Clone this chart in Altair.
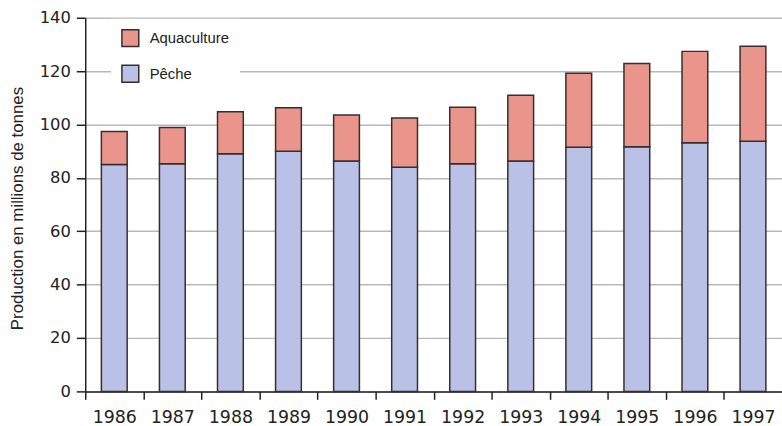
import altair as alt
import pandas as pd

# Production mondiale (millions de tonnes)
years = ["1986", "1987", "1988", "1989", "1990", "1991",
         "1992", "1993", "1994", "1995", "1996", "1997"]
peche = [85.0, 85.3, 89.0, 90.0, 86.3, 84.0, 85.3, 86.3, 91.5, 91.7, 93.2, 93.7]
aquaculture = [12.4, 13.6, 15.8, 16.3, 17.3, 18.4, 21.2, 24.7, 27.7, 31.2, 34.2, 35.6]
y_ticks = [0, 20, 40, 60, 80, 100, 120, 140]

series = ["Aquaculture", "Pêche"]
colors = ["#e9958b", "#b9c1e6"]

rows = []
for yr, p, a in zip(years, peche, aquaculture):
    rows.append({"annee": yr, "source": "Pêche", "valeur": p, "rang": 0})
    rows.append({"annee": yr, "source": "Aquaculture", "valeur": a, "rang": 1})
df = pd.DataFrame(rows)

width = 703
step = width / len(years)

chart = (
    alt.Chart(df)
    .mark_bar(stroke="#3a2c2c", strokeWidth=1.5)
    .encode(
        x=alt.X(
            "annee:N",
            sort=years,
            title=None,
            scale=alt.Scale(paddingInner=0.556, paddingOuter=0.278),
            axis=alt.Axis(
                tickOffset=-step / 2,
                labelOffset=step / 2,
                labelAngle=0,
                tickSize=8,
                tickColor="#222222",
                tickWidth=1.5,
                domainColor="#222222",
                domainWidth=1.5,
                labelFont="DejaVu Sans",
                labelFontSize=17.5,
                labelColor="#222222",
                labelPadding=9,
                grid=False,
            ),
        ),
        y=alt.Y(
            "valeur:Q",
            stack="zero",
            title="Production en millions de tonnes",
            scale=alt.Scale(domain=[0, 140], nice=False),
            axis=alt.Axis(
                values=y_ticks,
                grid=True,
                gridColor="#b8b8b8",
                gridWidth=1.5,
                tickSize=9,
                tickColor="#222222",
                tickWidth=1.5,
                domainColor="#222222",
                domainWidth=1.5,
                labelFont="DejaVu Sans",
                labelFontSize=16.5,
                labelColor="#222222",
                labelPadding=6,
                titleFont="Liberation Sans",
                titleFontSize=17,
                titleFontWeight="normal",
                titleColor="#222222",
                titleAngle=270,
                titleAlign="center",
                titleBaseline="middle",
                titleX=-68,
                titleY=192,
            ),
        ),
        fill=alt.Fill(
            "source:N",
            scale=alt.Scale(domain=series, range=colors),
            legend=alt.Legend(
                title=None,
                orient="none",
                legendX=26,
                legendY=1,
                fillColor="white",
                padding=10,
                symbolType="square",
                symbolSize=289,
                symbolStrokeColor="#3a2c2c",
                symbolStrokeWidth=1.5,
                symbolOpacity=1,
                rowPadding=13,
                labelOffset=10,
                labelFont="Liberation Sans",
                labelFontSize=15,
                labelColor="#222222",
            ),
        ),
        order=alt.Order("rang:Q", sort="ascending"),
    )
    .properties(
        width=width,
        height=377,
        autosize=alt.AutoSizeParams(type="none"),
        padding={"left": 86, "top": 16, "right": 0, "bottom": 33},
        background="white",
    )
    .configure_view(stroke=None)
)

chart.save("out.html", embed_options={"renderer": "svg", "actions": False})
